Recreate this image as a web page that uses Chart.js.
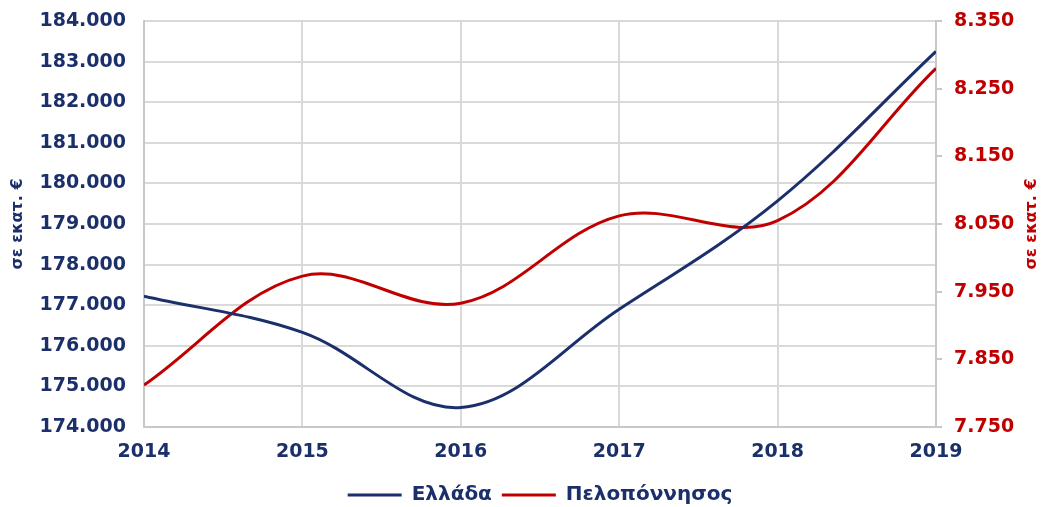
<!DOCTYPE html>
<html>
<head>
<meta charset="utf-8">
<script src="https://cdn.jsdelivr.net/npm/chart.js@4"></script>
<style>
  html, body { margin: 0; padding: 0; background: #fff; }
  #wrap { width: 1045px; height: 507px; }
</style>
</head>
<body>
<div id="wrap"><canvas id="growthChart" width="1045" height="507"></canvas></div>
<script>
const years = [2014, 2015, 2016, 2017, 2018, 2019];
const ellada = [177220, 176330, 174480, 176900, 179570, 183250];
const peloponnisos = [7812, 7973, 7933, 8062, 8055, 8280];

const navy = '#1b2f6b';
const red = '#c00000';
const gridGrey = '#d9d9d9';
const font = 'DejaVu Sans';

function greek(v) {
    return String(Math.round(v)).replace(/\B(?=(\d{3})+(?!\d))/g, '.');
}

// both axis titles read bottom-to-top, as in the original
const sideTitles = {
    id: 'sideTitles',
    afterDraw(chart) {
        const c = chart.ctx;
        const area = chart.chartArea;
        const mid = (area.top + area.bottom) / 2;
        c.save();
        c.font = 'bold 16px "' + font + '"';
        c.textAlign = 'center';
        c.textBaseline = 'middle';
        [[18, navy], [1032, red]].forEach(function (t) {
            c.save();
            c.translate(t[0], mid);
            c.rotate(-Math.PI / 2);
            c.fillStyle = t[1];
            c.fillText('σε εκατ. €', 0, 0);
            c.restore();
        });
        c.restore();
    }
};

function fixSide(width) {
    return s => {
        s.width = width;
        s.paddingTop = 0;
        s.paddingBottom = 0;
    };
}

const ctx = document.getElementById('growthChart').getContext('2d');

new Chart(ctx, {
    type: 'line',
    data: {
        datasets: [
            {
                label: 'Ελλάδα',
                data: years.map((y, i) => ({ x: y, y: ellada[i] })),
                borderColor: navy,
                backgroundColor: navy,
                borderWidth: 3,
                pointRadius: 0,
                tension: 0.36,
                yAxisID: 'y'
            },
            {
                label: 'Πελοπόννησος',
                data: years.map((y, i) => ({ x: y, y: peloponnisos[i] })),
                borderColor: red,
                backgroundColor: red,
                borderWidth: 3,
                pointRadius: 0,
                tension: 0.36,
                yAxisID: 'y1'
            }
        ]
    },
    options: {
        responsive: false,
        animation: false,
        layout: { padding: { top: 21, bottom: -8 } },
        scales: {
            x: {
                type: 'linear',
                min: 2014,
                max: 2019,
                grid: { color: gridGrey, lineWidth: 2, drawTicks: false },
                border: { color: '#c8c8c8', width: 2 },
                ticks: {
                    stepSize: 1,
                    padding: 14,
                    color: navy,
                    font: { family: font, size: 19, weight: 'bold' },
                    callback: v => String(v)
                },
                afterFit: s => { s.height = 48; s.paddingLeft = 0; s.paddingRight = 0; }
            },
            y: {
                position: 'left',
                min: 174000,
                max: 184000,
                grid: { color: gridGrey, lineWidth: 2, drawTicks: false },
                border: { color: '#c8c8c8', width: 2 },
                ticks: {
                    stepSize: 1000,
                    padding: 18,
                    color: navy,
                    font: { family: font, size: 19, weight: 'bold' },
                    callback: v => greek(v)
                },
                afterFit: fixSide(144)
            },
            y1: {
                position: 'right',
                min: 7750,
                max: 8350,
                grid: { drawOnChartArea: false, color: '#c8c8c8', lineWidth: 2, tickLength: 6 },
                border: { color: '#c8c8c8', width: 2 },
                ticks: {
                    stepSize: 100,
                    padding: 12,
                    color: red,
                    font: { family: font, size: 19, weight: 'bold' },
                    callback: v => greek(v)
                },
                afterFit: fixSide(109)
            }
        },
        plugins: {
            legend: {
                position: 'bottom',
                fullSize: false,
                labels: {
                    boxWidth: 54,
                    boxHeight: 3,
                    padding: 10,
                    color: navy,
                    font: { family: font, size: 20, weight: 'bold' },
                    generateLabels: chart => {
                        const items = Chart.defaults.plugins.legend.labels.generateLabels(chart);
                        items.forEach(it => { it.lineWidth = 0; });
                        return items;
                    }
                }
            },
            tooltip: { enabled: false }
        }
    },
    plugins: [sideTitles]
});
</script>
</body>
</html>
